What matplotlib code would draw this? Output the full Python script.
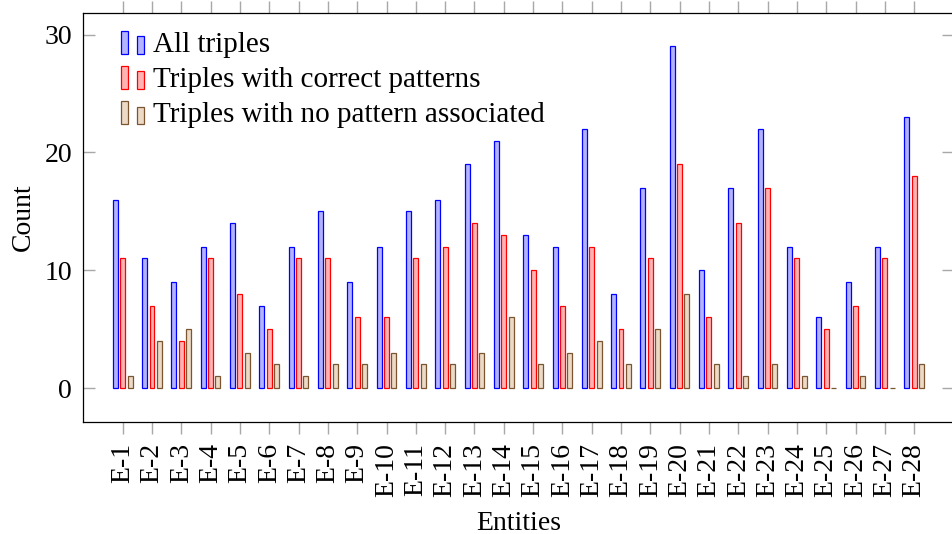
import matplotlib.pyplot as plt
from matplotlib.legend_handler import HandlerBase
from matplotlib.patches import Rectangle

entities = [f"E-{i}" for i in range(1, 29)]
all_triples = [16, 11, 9, 12, 14, 7, 12, 15, 9, 12, 15, 16, 19, 21,
               13, 12, 22, 8, 17, 29, 10, 17, 22, 12, 6, 9, 12, 23]
correct_patterns = [11, 7, 4, 11, 8, 5, 11, 11, 6, 6, 11, 12, 14, 13,
                    10, 7, 12, 5, 11, 19, 6, 14, 17, 11, 5, 7, 11, 18]
no_pattern = [1, 4, 5, 1, 3, 2, 1, 2, 2, 3, 2, 2, 3, 6,
              2, 3, 4, 2, 5, 8, 2, 1, 2, 1, 0, 1, 0, 2]

series = [
    ("All triples", all_triples, "#0000ff", "#b3b3ff"),
    ("Triples with correct patterns", correct_patterns, "#ff0000", "#ffb3b3"),
    ("Triples with no pattern associated", no_pattern, "#7a5530", "#ecd9c6"),
]


class TwoBarHandler(HandlerBase):
    # pgfplots style ybar legend: two small bars of different height
    def create_artists(self, legend, orig_handle, xdescent, ydescent,
                       width, height, fontsize, trans):
        ec = orig_handle.get_edgecolor()
        fc = orig_handle.get_facecolor()
        y0 = -ydescent - 0.1 * height
        bars = []
        for x0, h in [(0.0, 1.1), (0.64, 0.85)]:
            r = Rectangle((-xdescent + x0 * width, y0), 0.3 * width, h * height,
                          facecolor=fc, edgecolor=ec, linewidth=0.9,
                          transform=trans)
            bars.append(r)
        return bars


plt.rcParams['font.family'] = ['Liberation Serif', 'DejaVu Serif']
plt.rcParams['font.size'] = 20

fig = plt.figure(figsize=(9.53, 5.34), dpi=100)
ax = fig.add_axes([83 / 953, 1 - 421.7 / 534, (954 - 83) / 953, (421.7 - 12.5) / 534])

x = list(range(len(entities)))
width = 0.17
offset = 0.25
handles = []
for k, (label, vals, ec, fc) in enumerate(series):
    pos = [xi + (k - 1) * offset for xi in x]
    b = ax.bar(pos, vals, width=width, facecolor=fc, edgecolor=ec,
               linewidth=0.9, label=label)
    handles.append(b.patches[0])

ax.set_xlim(-1.354, 28.36)
ax.set_ylim(-2.86, 31.88)
ax.set_xticks(x)
ax.set_xticklabels(entities, rotation=90)
ax.set_yticks([0, 10, 20, 30])

ax.tick_params(axis='x', direction='out', length=8.6, width=1, color='#a8a8a8',
               top=True, bottom=True, pad=6.5)
ax.tick_params(axis='y', direction='in', length=8.6, width=1, color='#a8a8a8',
               left=True, right=True, pad=8)
for s in ax.spines.values():
    s.set_linewidth(0.9)
ax.spines['right'].set_visible(False)

ax.set_xlabel("Entities", labelpad=10)
ax.set_ylabel("Count", labelpad=6)

ax.legend(handles, [s[0] for s in series], handler_map={Rectangle: TwoBarHandler()},
          loc='upper left', bbox_to_anchor=(0.03, 0.983), frameon=False,
          fontsize=21, handlelength=0.85, handletextpad=0.25, labelspacing=0.3,
          borderaxespad=0)

fig.savefig("out.png", dpi=100)
